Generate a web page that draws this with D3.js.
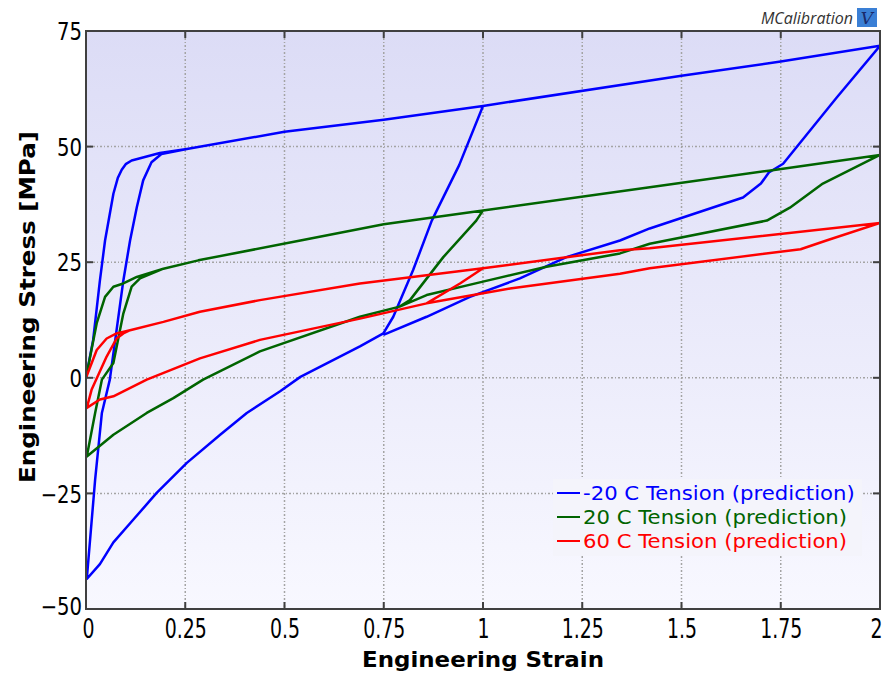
<!DOCTYPE html>
<html>
<head>
<meta charset="utf-8">
<script src="https://cdn.jsdelivr.net/npm/d3@7"></script>
<style>
  body { margin: 0; background: #fff; }
  svg { display: block; }
</style>
</head>
<body>
<div id="chart"></div>
<script>
var width = 886,
    height = 674,
    margin = { top: 31, right: 6, bottom: 65, left: 86 };

// tick values
var xTicks = [0, 0.25, 0.5, 0.75, 1, 1.25, 1.5, 1.75, 2];
var yTicks = [-50, -25, 0, 25, 50, 75];

var seriesNames = ['-20 C Tension (prediction)', '20 C Tension (prediction)', '60 C Tension (prediction)'];
var seriesColors = ['#0000ff', '#006400', '#ff0000'];

// [strain, stress]: load, unload, reload, unload
var minus20 = [
  [0, 0], [0.018, 8.2], [0.035, 21], [0.048, 29.7], [0.069, 39.8], [0.08, 43.2], [0.09, 45], [0.1, 46.2], [0.115, 47],
  [0.186, 48.6], [0.254, 49.5], [0.5, 53.2], [0.75, 55.8], [1, 58.8],
  [0.94, 46], [0.871, 34], [0.824, 23.3], [0.774, 13.2], [0.749, 9.6], [0.69, 6.8], [0.54, 0.2],
  [0.489, -2.9], [0.405, -7.6], [0.338, -12.3], [0.254, -18.4], [0.178, -24.9], [0.12, -30.6],
  [0.069, -35.6], [0.035, -40.3], [0.002, -43.5],
  [0.023, -22], [0.04, -7.6], [0.06, -0.4], [0.094, 21], [0.111, 29.7], [0.128, 36.9],
  [0.144, 42.7], [0.165, 46.6], [0.19, 48.4], [0.254, 49.5], [0.5, 53.2], [0.75, 55.8],
  [1, 58.8], [1.5, 65.3], [1.75, 68.4], [2, 71.8],
  [1.89, 60.5], [1.756, 46.3], [1.72, 44.4], [1.7, 42], [1.655, 39], [1.42, 32.3],
  [1.345, 29.7], [1.21, 26.1], [1.093, 21.5], [0.967, 17.5], [0.858, 13.2], [0.749, 9.3]
];

var plus20 = [
  [0, 0], [0.027, 11.8], [0.048, 17.5], [0.069, 19.7], [0.094, 20.4], [0.128, 21.8],
  [0.195, 23.6], [0.283, 25.4], [0.54, 29.7], [0.75, 33.2], [1, 36.2],
  [0.983, 34], [0.9, 26.1], [0.816, 16.8], [0.79, 15.4], [0.69, 13.2], [0.438, 5.7],
  [0.295, -0.4], [0.22, -4.4], [0.153, -7.6], [0.069, -12.3], [0.002, -17],
  [0.023, -7.6], [0.04, -0.4], [0.069, 3.2], [0.094, 13.9], [0.115, 19.7], [0.136, 21.5],
  [0.195, 23.6], [0.283, 25.4], [0.54, 29.7], [0.75, 33.2], [1, 36.2], [1.42, 41.2],
  [1.72, 44.8], [2, 48.2],
  [1.856, 42], [1.773, 36.8], [1.715, 34], [1.42, 29], [1.345, 26.9], [1.16, 24],
  [1, 20.8], [0.858, 17.9], [0.79, 15.4]
];

var plus60 = [
  [0, 0], [0.027, 6], [0.052, 8.5], [0.077, 9.6], [0.111, 10.3], [0.195, 12.1],
  [0.287, 14.3], [0.438, 16.8], [0.69, 20.4], [1, 23.7],
  [0.942, 20.4], [0.858, 16.1], [0.69, 12.8], [0.438, 8.2], [0.287, 4.2], [0.153, -0.4],
  [0.069, -4], [0.035, -4.7], [0.002, -6.5],
  [0.014, -2.6], [0.052, 4.6], [0.077, 8.5], [0.094, 9.6], [0.111, 10.3], [0.195, 12.1],
  [0.287, 14.3], [0.438, 16.8], [0.69, 20.4], [1, 23.7], [1.345, 27.6], [1.42, 28], [2, 33.5],
  [1.865, 29.7], [1.8, 27.8], [1.42, 23.7], [1.345, 22.5], [1.068, 19.3], [0.858, 16.1]
];

var allSeries = [minus20, plus20, plus60];

var svg = d3.select('#chart').append('svg')
    .attr('width', width)
    .attr('height', height);

var defs = svg.append('defs');
var grad = defs.append('linearGradient')
    .attr('id', 'bg')
    .attr('x1', 0).attr('y1', 0).attr('x2', 0).attr('y2', 1);
grad.append('stop').attr('offset', '0%').attr('stop-color', '#dcdcf6');
grad.append('stop').attr('offset', '100%').attr('stop-color', '#f8f8ff');

defs.append('clipPath').attr('id', 'clip')
  .append('rect')
    .attr('x', margin.left).attr('y', margin.top)
    .attr('width', width - margin.left - margin.right)
    .attr('height', height - margin.top - margin.bottom);

var xScale = d3.scaleLinear()
    .domain([0, 2])
    .range([margin.left, width - margin.right]);

var yScale = d3.scaleLinear()
    .domain([-50, 75])
    .range([height - margin.bottom, margin.top]);

// squeeze text horizontally (narrow font look)
function squeeze(sel, k) {
    sel.each(function(){
        var w = this.getComputedTextLength();
        d3.select(this)
            .attr('textLength', w * k)
            .attr('lengthAdjust', 'spacingAndGlyphs');
    });
}

// plot background
svg.append('rect')
    .attr('x', margin.left).attr('y', margin.top)
    .attr('width', width - margin.left - margin.right)
    .attr('height', height - margin.top - margin.bottom)
    .attr('fill', 'url(#bg)');

// grid
var grid = svg.append('g').attr('class', 'grid');
grid.selectAll('line.gx')
    .data(xTicks.slice(1, -1))
    .enter().append('line')
    .attr('class', 'gx')
    .attr('x1', function(d){ return xScale(d); })
    .attr('x2', function(d){ return xScale(d); })
    .attr('y1', yScale(75)).attr('y2', yScale(-50));
grid.selectAll('line.gy')
    .data(yTicks.slice(1, -1))
    .enter().append('line')
    .attr('class', 'gy')
    .attr('y1', function(d){ return yScale(d); })
    .attr('y2', function(d){ return yScale(d); })
    .attr('x1', xScale(0)).attr('x2', xScale(2));
grid.selectAll('line')
    .attr('stroke', '#a4a4a4')
    .attr('stroke-width', 1.5)
    .attr('stroke-dasharray', '2,2,1,2');

// curves
var line = d3.line()
    .x(function(d){ return xScale(d[0]); })
    .y(function(d){ return yScale(d[1]); });

svg.append('g')
    .attr('clip-path', 'url(#clip)')
  .selectAll('path')
    .data(allSeries)
    .enter().append('path')
    .attr('d', line)
    .attr('fill', 'none')
    .attr('stroke', function(d, i){ return seriesColors[i]; })
    .attr('stroke-width', 2.5)
    .attr('stroke-linejoin', 'round');

// axes
var xAxis = svg.append('g')
    .attr('transform', 'translate(0,' + yScale(-50) + ')')
    .call(d3.axisBottom(xScale).tickValues(xTicks).tickSize(0).tickPadding(10)
        .tickFormat(function(d){ return String(d); }));
xAxis.select('.domain').remove();
xAxis.selectAll('text')
    .style('font-family', '"DejaVu Sans", sans-serif')
    .style('font-size', '27px')
    .attr('fill', '#000')
    .call(squeeze, 0.7);
xAxis.selectAll('.tick').filter(function(d){ return d === 2; })
    .select('text').attr('x', -4);
xAxis.selectAll('.tick').filter(function(d){ return d === 0; })
    .select('text').attr('x', 2);

var yAxis = svg.append('g')
    .attr('transform', 'translate(' + xScale(0) + ',0)')
    .call(d3.axisLeft(yScale).tickValues(yTicks).tickSize(0).tickPadding(4));
yAxis.select('.domain').remove();
yAxis.selectAll('text')
    .style('font-family', '"DejaVu Sans", sans-serif')
    .style('font-size', '24px')
    .attr('dy', '0.36em')
    .attr('fill', '#000')
    .call(squeeze, 0.82);
yAxis.selectAll('.tick').filter(function(d){ return d === -50; })
    .select('text').attr('y', -3);

var ticks = svg.append('g')
    .attr('stroke', '#404040')
    .attr('stroke-width', 2);
ticks.selectAll('line.tb')
    .data(xTicks.slice(1, -1))
    .enter().append('line')
    .attr('x1', function(d){ return xScale(d); })
    .attr('x2', function(d){ return xScale(d); })
    .attr('y1', yScale(-50)).attr('y2', yScale(-50) - 7);
ticks.selectAll('line.tt')
    .data(xTicks.slice(1, -1))
    .enter().append('line')
    .attr('x1', function(d){ return xScale(d); })
    .attr('x2', function(d){ return xScale(d); })
    .attr('y1', yScale(75)).attr('y2', yScale(75) + 7);
ticks.selectAll('line.tl')
    .data(yTicks.slice(1, -1))
    .enter().append('line')
    .attr('y1', function(d){ return yScale(d); })
    .attr('y2', function(d){ return yScale(d); })
    .attr('x1', xScale(0)).attr('x2', xScale(0) + 7);
ticks.selectAll('line.tr')
    .data(yTicks.slice(1, -1))
    .enter().append('line')
    .attr('y1', function(d){ return yScale(d); })
    .attr('y2', function(d){ return yScale(d); })
    .attr('x1', xScale(2)).attr('x2', xScale(2) - 7);

// frame
svg.append('rect')
    .attr('x', margin.left).attr('y', margin.top)
    .attr('width', width - margin.left - margin.right)
    .attr('height', height - margin.top - margin.bottom)
    .attr('fill', 'none')
    .attr('stroke', '#404040')
    .attr('stroke-width', 2);

// axis titles
svg.append('text')
    .attr('x', (xScale(0) + xScale(2)) / 2)
    .attr('y', 667)
    .attr('text-anchor', 'middle')
    .attr('textLength', 242)
    .attr('lengthAdjust', 'spacingAndGlyphs')
    .style('font-family', '"DejaVu Sans", sans-serif')
    .style('font-weight', 'bold')
    .style('font-size', '21px')
    .text('Engineering Strain');

svg.append('text')
    .attr('transform', 'translate(35,' + 307 + ') rotate(-90)')
    .attr('text-anchor', 'middle')
    .attr('textLength', 352)
    .attr('lengthAdjust', 'spacingAndGlyphs')
    .style('font-family', '"DejaVu Sans", sans-serif')
    .style('font-weight', 'bold')
    .style('font-size', '21px')
    .text('Engineering Stress [MPa]');

// legend
var legend = svg.append('g').attr('transform', 'translate(553,479)');
legend.append('rect')
    .attr('width', 309).attr('height', 77)
    .attr('fill', '#f4f4fb');
var item = legend.selectAll('g.item')
    .data(seriesNames)
    .enter().append('g')
    .attr('transform', function(d, i){ return 'translate(0,' + (14 + i * 24) + ')'; });
item.append('line')
    .attr('x1', 4).attr('x2', 27)
    .attr('stroke', function(d, i){ return seriesColors[i]; })
    .attr('stroke-width', 2);
item.append('text')
    .attr('x', 30)
    .attr('dy', '0.36em')
    .attr('fill', function(d, i){ return seriesColors[i]; })
    .style('font-family', '"DejaVu Sans", sans-serif')
    .style('font-size', '20px')
    .text(function(d){ return d; })
    .call(squeeze, 1.06);

// logo
svg.append('text')
    .attr('x', 853).attr('y', 24)
    .attr('text-anchor', 'end')
    .attr('fill', '#333')
    .style('font-family', '"Open Sans", sans-serif')
    .style('font-style', 'italic')
    .style('font-size', '16px')
    .text('MCalibration');
svg.append('rect')
    .attr('x', 857).attr('y', 8)
    .attr('width', 20).attr('height', 19)
    .attr('fill', '#3a7fd5');
svg.append('text')
    .attr('x', 867).attr('y', 24)
    .attr('text-anchor', 'middle')
    .attr('fill', '#1a2a6a')
    .style('font-family', '"DejaVu Serif", serif')
    .style('font-style', 'italic')
    .style('font-size', '17px')
    .text('V');
</script>
</body>
</html>
